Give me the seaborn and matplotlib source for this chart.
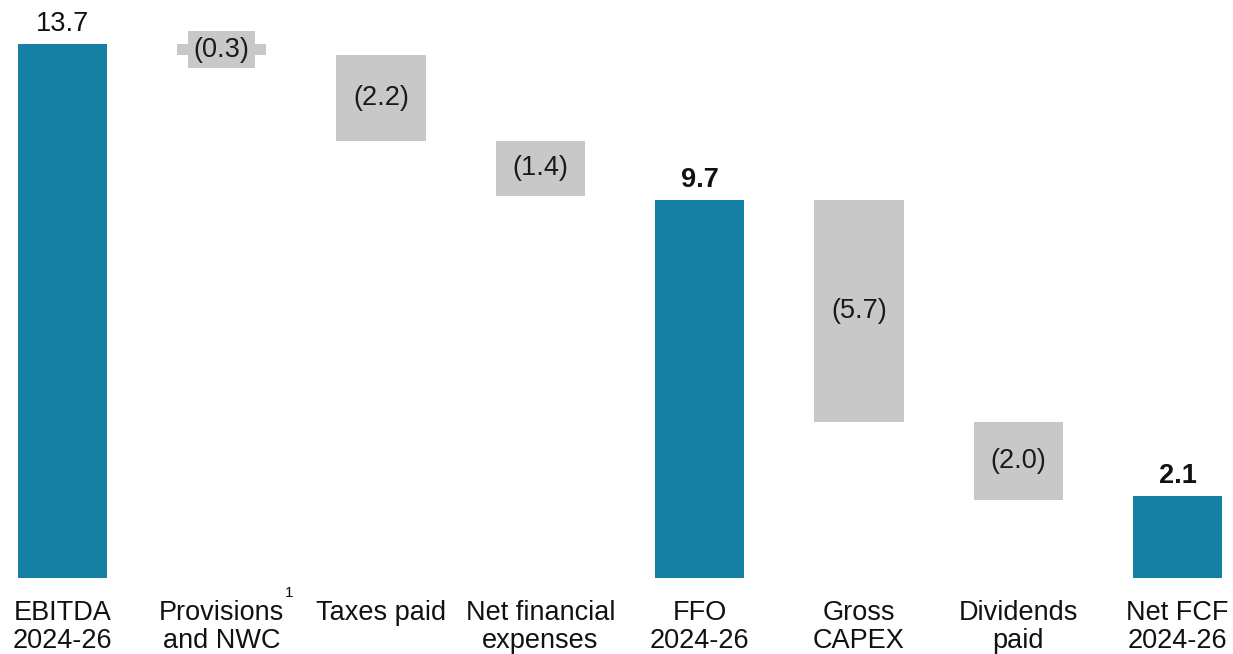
import matplotlib
matplotlib.use("Agg")
import matplotlib.pyplot as plt
import seaborn as sns
import numpy as np
import pandas as pd

# Cash flow bridge 2024-26 (EUR bn)
categories = ["EBITDA\n2024-26", "Provisions\nand NWC", "Taxes paid",
              "Net financial\nexpenses", "FFO\n2024-26", "Gross\nCAPEX",
              "Dividends\npaid", "Net FCF\n2024-26"]
values = [13.7, -0.3, -2.2, -1.4, 9.7, -5.7, -2.0, 2.1]
is_total = [True, False, False, False, True, False, False, True]
bold_total = [False, False, False, False, True, False, False, True]

TEAL = "#1580a3"
GREY = "#c8c8c8"
FS = 19.5

sns.set_theme(style="white")
plt.rcParams["font.family"] = ["Liberation Sans", "DejaVu Sans"]

# running level: totals reset it, deltas hang from it
bottoms, heights = [], []
level = 0.0
for v, t in zip(values, is_total):
    if t:
        bottoms.append(0.0)
        heights.append(v)
        level = v
    else:
        bottoms.append(level + v)
        heights.append(-v)
        level = level + v

df = pd.DataFrame({"cat": categories, "height": heights, "bottom": bottoms,
                   "total": is_total})

fig = plt.figure(figsize=(12.33, 6.54), dpi=100)
ax = fig.add_axes([0, 0.1162, 1, 0.8838])

tot = df[df["total"]]
dlt = df[~df["total"]]
sns.barplot(data=tot, x="cat", y="height", order=categories, color=TEAL,
            saturation=1, width=0.56, bottom=tot["bottom"].to_numpy(), ax=ax,
            edgecolor="none")
sns.barplot(data=dlt, x="cat", y="height", order=categories, color=GREY,
            saturation=1, width=0.56, bottom=dlt["bottom"].to_numpy(), ax=ax,
            edgecolor="none")

ax.set_xlim(-0.392, 7.348)
ax.set_ylim(0, 14.82)

# value labels
for i, (v, b, h, t, bt) in enumerate(zip(values, bottoms, heights, is_total, bold_total)):
    if t:
        ax.annotate(f"{v:.1f}", (i, b + h), xytext=(0, 5), textcoords="offset points",
                    ha="center", va="bottom", fontsize=FS,
                    fontweight="bold" if bt else "normal", color="#111111")
    else:
        ax.text(i, b + h / 2, f"({abs(v):.1f})", ha="center", va="center",
                fontsize=FS, color="#1a1a1a",
                bbox=dict(boxstyle="square,pad=0.2", fc=GREY, ec="none"))

ax.set_xlabel("")
ax.set_ylabel("")
ax.set_yticks([])
ax.set_xticks(range(len(categories)))
ax.set_xticklabels(categories, fontsize=FS, color="#111111", linespacing=1.1,
                   va="top")
ax.tick_params(axis="x", length=0, pad=16)
for s in ax.spines.values():
    s.set_visible(False)

# footnote marker on the provisions label
ax.text(1.395, -0.38, "1", fontsize=11, ha="left", va="center", color="#111111",
        transform=ax.transData, clip_on=False)

fig.savefig("out.png", dpi=100, facecolor="white")
